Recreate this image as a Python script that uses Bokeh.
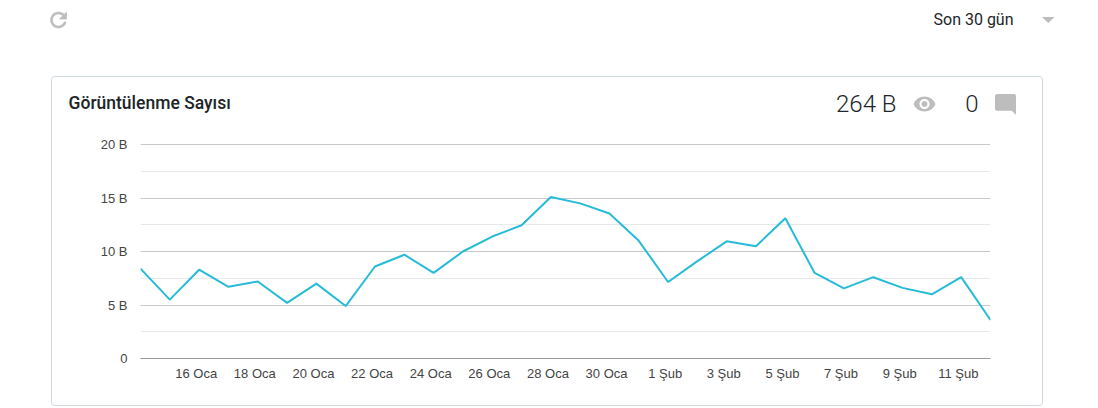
from urllib.parse import quote
from bokeh.plotting import figure
from bokeh.embed import file_html
from bokeh.resources import INLINE
from bokeh.models import ColumnDataSource, FixedTicker, InlineStyleSheet, Label, Range1d

dates = ["14 Oca", "15 Oca", "16 Oca", "17 Oca", "18 Oca", "19 Oca", "20 Oca", "21 Oca",
         "22 Oca", "23 Oca", "24 Oca", "25 Oca", "26 Oca", "27 Oca", "28 Oca", "29 Oca",
         "30 Oca", "31 Oca", "1 Şub", "2 Şub", "3 Şub", "4 Şub", "5 Şub", "6 Şub",
         "7 Şub", "8 Şub", "9 Şub", "10 Şub", "11 Şub", "12 Şub"]
views = [8.4, 5.5, 8.3, 6.7, 7.2, 5.2, 7.0, 4.9, 8.6, 9.7, 8.0, 10.0, 11.4, 12.45, 15.1,
         14.5, 13.55, 11.0, 7.15, 9.1, 10.95, 10.5, 13.1, 8.0, 6.55, 7.6, 6.6, 6.0, 7.6, 3.6]
y_major = [0, 5, 10, 15, 20]
y_minor = [2.5, 7.5, 12.5, 17.5]
y_labels = {0: "0", 5: "5 B", 10: "10 B", 15: "15 B", 20: "20 B"}
x_tick_idx = list(range(2, 30, 2))
x_label_shift = -0.1

W, H = 1098, 408

ICON = "#BDBDBD"
svg = f"""<svg xmlns='http://www.w3.org/2000/svg' width='{W}' height='{H}'>
<rect x='51.5' y='76.5' width='991' height='329' rx='3' fill='none' stroke='#CFD8DC'/>
<path fill='{ICON}' stroke='{ICON}' stroke-width='0.7' transform='translate(46.5 8)' d='M17.65 6.35C16.2 4.9 14.21 4 12 4c-4.42 0-7.99 3.58-7.99 8s3.57 8 7.99 8c3.73 0 6.84-2.55 7.73-6h-2.08c-.82 2.33-3.04 4-5.65 4-3.31 0-6-2.69-6-6s2.69-6 6-6c1.66 0 3.14.69 4.22 1.78L13 11h7V4l-2.35 2.35z'/>
<path fill='{ICON}' d='M1042 17h12.5l-6.25 6z'/>
<path fill='{ICON}' transform='translate(912.5 92)' d='M12 4.5C7 4.5 2.73 7.61 1 12c1.73 4.39 6 7.5 11 7.5s9.27-3.11 11-7.5c-1.73-4.39-6-7.5-11-7.5zM12 17c-2.76 0-5-2.24-5-5s2.24-5 5-5 5 2.24 5 5-2.24 5-5 5zm0-8c-1.66 0-3 1.34-3 3s1.34 3 3 3 3-1.34 3-3-1.34-3-3-3z'/>
<path fill='{ICON}' transform='translate(992.9 91.9) scale(1.05)' d='M21.99 4c0-1.1-.89-2-1.99-2H4c-1.1 0-2 .9-2 2v12c0 1.1.9 2 2 2h14l4 4-.01-18z'/>
</svg>"""
css = f"""
:host {{ position: relative; }}
:host::after {{ content: ""; position: absolute; left: 0; top: 0; width: {W}px; height: {H}px;
  pointer-events: none; background: url("data:image/svg+xml,{quote(svg)}") no-repeat; }}
"""

p = figure(width=W, height=H, output_backend="svg", toolbar_location=None,
           x_range=Range1d(0, len(dates) - 1), y_range=Range1d(0, 20.095),
           min_border_left=140, min_border_right=108, min_border_top=143, min_border_bottom=50,
           outline_line_color=None, background_fill_color="white", border_fill_color="white",
           stylesheets=[InlineStyleSheet(css=css)])

src = ColumnDataSource(dict(x=list(range(len(dates))), y=views))
p.line("x", "y", source=src, line_color="#26BCD7", line_width=2)

p.xgrid.visible = False
p.ygrid.grid_line_color = "#C6CACD"
p.ygrid.grid_line_width = 1
p.ygrid.minor_grid_line_color = "#E8E8E8"
p.ygrid.minor_grid_line_width = 1
p.yaxis.ticker = FixedTicker(ticks=y_major, minor_ticks=y_minor)
p.yaxis.major_label_overrides = y_labels
p.yaxis.axis_line_color = None
p.yaxis.major_tick_line_color = None
p.yaxis.minor_tick_line_color = None
p.yaxis.major_label_standoff = 7
tick_pos = [i + x_label_shift for i in x_tick_idx]
p.xaxis.ticker = FixedTicker(ticks=tick_pos)
p.xaxis.major_label_overrides = {i + x_label_shift: dates[i] for i in x_tick_idx}
p.xaxis.axis_line_color = "#999999"
p.xaxis.axis_line_width = 1
p.xaxis.major_tick_line_color = None
p.xaxis.minor_tick_line_color = None
p.xaxis.major_label_standoff = 1
for ax in (p.xaxis, p.yaxis):
    ax.major_label_text_font = "Liberation Sans"
    ax.major_label_text_font_size = "13px"
    ax.major_label_text_color = "#444444"


def text(x, y, s, size, color="#212529", font="Roboto", style="normal", align="left"):
    p.add_layout(Label(x=x, y=y, x_units="canvas", y_units="canvas", text=s,
                       text_font=font, text_font_size=size, text_color=color,
                       text_font_style=style, text_align=align, text_baseline="alphabetic"), "above")


text(68, 102, "Görüntülenme Sayısı", "17.5px", font="Roboto Medium")
text(933, 19, "Son 30 gün", "16px")
text(896, 103, "264 B", "24px", font="Roboto Light", align="right")
text(978, 103, "0", "24px", font="Roboto Light", align="right")

open("out.html", "w").write(file_html(p, INLINE))
